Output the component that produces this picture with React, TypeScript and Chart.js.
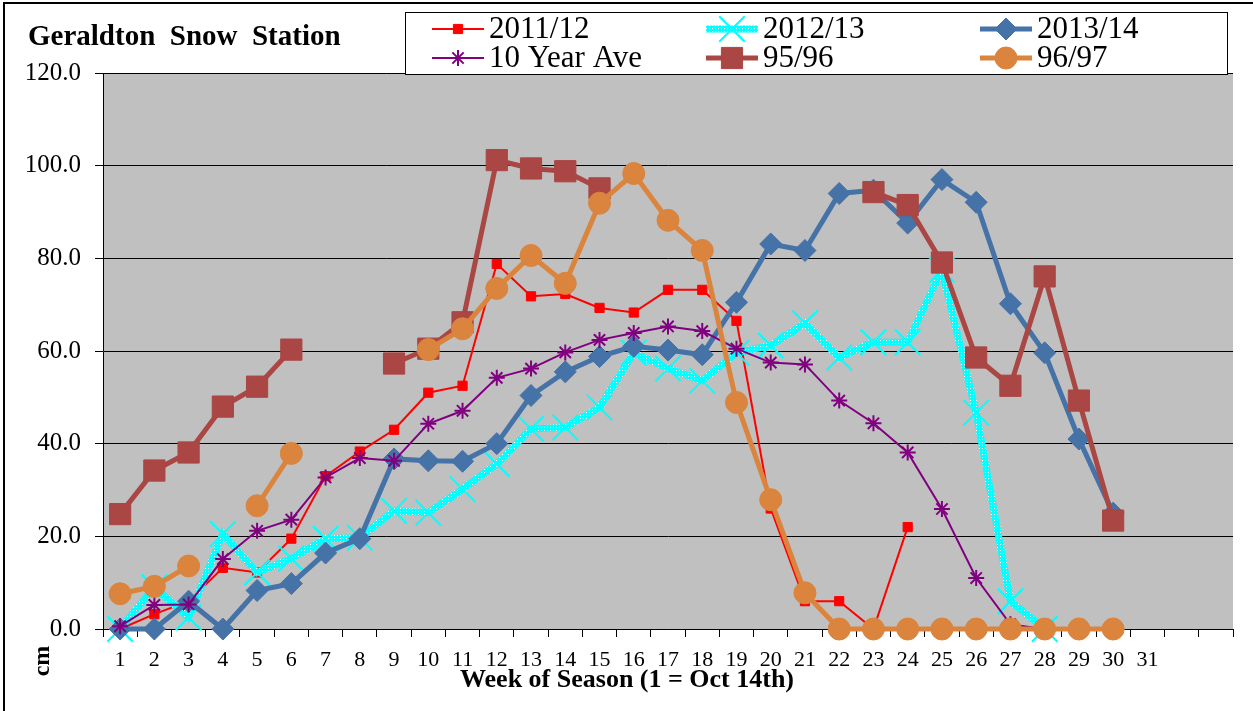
import React, { useEffect, useRef } from 'react';
import { Chart, registerables } from 'chart.js';
import { drawPoint } from 'chart.js/helpers';

Chart.register(...registerables);

const weekLabels = ['1','2','3','4','5','6','7','8','9','10','11','12','13','14','15','16','17','18','19','20','21','22','23','24','25','26','27','28','29','30','31','',''];

const season2011_12 = [0, 3.2, 6, 13.2, 12.2, 19.5, 33, 38.3, 43, 51, 52.5, 78.8, 71.8, 72.3, 69.3, 68.3, 73.2, 73.2, 66.5, 26, 6, 6, 0, 22];
const season2012_13 = [0, 9, 2.5, 20.5, 12.2, 15.2, 19.5, 19.7, 25.5, 25.1, 30.2, 35.6, 43.2, 43.5, 47.8, 59.6, 56.2, 53.6, 59.6, 61.2, 66, 58.6, 61.9, 61.9, 77.5, 46.7, 6, 0];
const season2013_14 = [0, 0, 6, 0, 8.3, 9.8, 16.4, 19.5, 36.7, 36.3, 36.2, 40, 50.4, 55.5, 58.8, 61, 60.2, 59.2, 70.5, 83.1, 81.7, 94, 94.7, 87.6, 97, 92.1, 70.2, 59.6, 41, 25];
const tenYearAve = [0.6, 5.2, 5.3, 15.1, 21.2, 23.6, 32.7, 36.9, 36.3, 44.3, 47.1, 54.2, 56.2, 59.7, 62.4, 63.9, 65.3, 64.3, 60.5, 57.5, 57.1, 49.3, 44.4, 38.1, 25.9, 11, 1, 0];
const season95_96 = [24.8, 34.2, 38.1, 48, 52.3, 60.3, null, null, 57.3, 60.5, 66.2, 101.2, 99.4, 98.8, 95.1, null, null, null, null, null, null, null, 94.3, 91.5, 79.1, 58.6, 52.5, 76.1, 49.3, 23.4];
const season96_97 = [7.6, 9.2, 13.6, null, 26.6, 37.9, null, null, null, 60.3, 64.8, 73.5, 80.6, 74.6, 91.9, 98.3, 88.2, 81.7, 48.9, 27.9, 7.8, 0, 0, 0, 0, 0, 0, 0, 0, 0];

const yTicks = [0, 20, 40, 60, 80, 100, 120];

const SERIF = '"Liberation Serif", "Times New Roman", serif';

export default function App() {
  const canvasRef = useRef<HTMLCanvasElement | null>(null);

  useEffect(() => {
    const canvas = canvasRef.current;
    if (!canvas) return;
    const ctx = canvas.getContext('2d')!;

    // dotted cyan texture for 2012/13
    const pc = document.createElement('canvas');
    pc.width = 3;
    pc.height = 3;
    const pctx = pc.getContext('2d')!;
    pctx.fillStyle = '#00FFFF';
    pctx.fillRect(0, 0, 3, 3);
    pctx.fillStyle = '#FFFFFF';
    pctx.fillRect(1, 1, 1, 1);
    const cyanPattern = ctx.createPattern(pc, 'repeat') || '#00FFFF';

    const styles = [
      { label: '2011/12', data: season2011_12, line: '#FF0000', color: '#FF0000', width: 2, style: 'rect', radius: 6.5, pbw: 1, order: 6 },
      { label: '2012/13', data: season2012_13, line: cyanPattern, color: '#00FFFF', width: 7, style: 'crossRot', radius: 18, pbw: 2, order: 5 },
      { label: '2013/14', data: season2013_14, line: '#4572A7', color: '#4572A7', width: 5, style: 'rectRot', radius: 11, pbw: 1, order: 4 },
      { label: '10 Year Ave', data: tenYearAve, line: '#800080', color: '#800080', width: 2, style: 'star', radius: 8, pbw: 2, order: 3 },
      { label: '95/96', data: season95_96, line: '#AA4643', color: '#AA4643', width: 5, style: 'rect', radius: 15, pbw: 1, order: 2 },
      { label: '96/97', data: season96_97, line: '#DB843D', color: '#DB843D', width: 5, style: 'circle', radius: 11, pbw: 1, order: 1 },
    ];

    const decorPlugin = {
      id: 'decor',
      beforeDraw(chart: any) {
        const { ctx: c, chartArea: a } = chart;
        c.save();
        c.fillStyle = '#FFFFFF';
        c.fillRect(0, 0, chart.width, chart.height);
        c.fillStyle = '#C0C0C0';
        c.fillRect(a.left, a.top, a.right - a.left, a.bottom - a.top);
        c.restore();
      },
      afterDraw(chart: any) {
        const c: CanvasRenderingContext2D = chart.ctx;
        c.save();
        // title
        c.fillStyle = '#000';
        c.font = 'bold 29px ' + SERIF;
        c.textAlign = 'left';
        c.textBaseline = 'alphabetic';
        c.fillText('Geraldton  Snow  Station', 28, 45);

        // legend box
        c.fillStyle = '#FFFFFF';
        c.fillRect(405, 12, 823, 63);
        c.strokeStyle = '#000';
        c.lineWidth = 1;
        c.strokeRect(405.5, 12.5, 822, 62);

        const colX = [432, 706, 980];
        const rowY = [29, 58];
        styles.forEach((s, i) => {
          const x0 = colX[i % 3];
          const y = rowY[Math.floor(i / 3)];
          c.save();
          c.strokeStyle = s.line as any;
          c.lineWidth = s.width;
          c.beginPath();
          c.moveTo(x0, y);
          c.lineTo(x0 + 52, y);
          c.stroke();
          c.fillStyle = s.color;
          c.strokeStyle = s.color;
          c.lineWidth = s.pbw;
          drawPoint(c, { pointStyle: s.style as any, rotation: 0, radius: s.radius, borderWidth: s.pbw }, x0 + 26, y);
          c.restore();
          c.fillStyle = '#000';
          c.font = '31px ' + SERIF;
          c.textAlign = 'left';
          c.textBaseline = 'middle';
          c.fillText(s.label, x0 + 57, y + 1);
        });

        // axis titles
        c.fillStyle = '#000';
        c.font = 'bold 26px ' + SERIF;
        c.textAlign = 'center';
        c.textBaseline = 'middle';
        c.fillText('Week of Season (1 = Oct 14th)', 627, 680);

        c.save();
        c.translate(43, 661);
        c.rotate(-Math.PI / 2);
        c.font = 'bold 24px ' + SERIF;
        c.fillText('cm', 0, 0);
        c.restore();

        // outer frame
        c.strokeStyle = '#000';
        c.lineWidth = 2;
        c.strokeRect(4, 3, 1300, 800);
        c.restore();
      },
    };

    const chart = new Chart(ctx, {
      type: 'line',
      data: {
        labels: weekLabels,
        datasets: styles.map((s) => ({
          label: s.label,
          data: s.data,
          borderColor: s.line as any,
          backgroundColor: s.color,
          borderWidth: s.width,
          pointStyle: s.style as any,
          pointRadius: s.radius,
          pointHoverRadius: s.radius,
          pointBackgroundColor: s.color,
          pointBorderColor: s.color,
          pointBorderWidth: s.pbw,
          fill: false,
          tension: 0,
          spanGaps: false,
          clip: false as any,
          order: s.order,
        })),
      },
      options: {
        responsive: false,
        animation: false,
        devicePixelRatio: 1,
        layout: { padding: { left: 0, top: 73, right: 8, bottom: 0 } },
        plugins: {
          legend: { display: false },
          title: { display: false },
          tooltip: { enabled: false },
        },
        scales: {
          x: {
            type: 'category',
            offset: true,
            grid: {
              display: true,
              drawOnChartArea: false,
              drawTicks: true,
              tickLength: 8,
              color: '#000',
              offset: true,
            },
            border: { display: true, color: '#000', width: 1 },
            ticks: {
              autoSkip: false,
              maxRotation: 0,
              minRotation: 0,
              padding: 10,
              color: '#000',
              font: { family: SERIF, size: 22 },
            },
            afterFit: (scale: any) => {
              scale.height = 82;
            },
          },
          y: {
            min: 0,
            max: 120,
            afterBuildTicks: (scale: any) => {
              scale.ticks = yTicks.map((v) => ({ value: v }));
            },
            grid: {
              color: '#000',
              lineWidth: 1,
              drawTicks: true,
              tickLength: 8,
            },
            border: { display: true, color: '#000', width: 1 },
            ticks: {
              padding: 14,
              color: '#000',
              font: { family: SERIF, size: 25 },
              callback: (v: any) => Number(v).toFixed(1),
            },
            afterFit: (scale: any) => {
              scale.width = 103;
            },
          },
        },
      },
      plugins: [decorPlugin],
    });

    return () => {
      chart.destroy();
    };
  }, []);

  return (
    <div style={{ position: 'fixed', left: 0, top: 0, width: 1253, height: 711, background: '#fff' }}>
      <canvas ref={canvasRef} width={1253} height={711} style={{ display: 'block', width: 1253, height: 711 }} />
    </div>
  );
}
